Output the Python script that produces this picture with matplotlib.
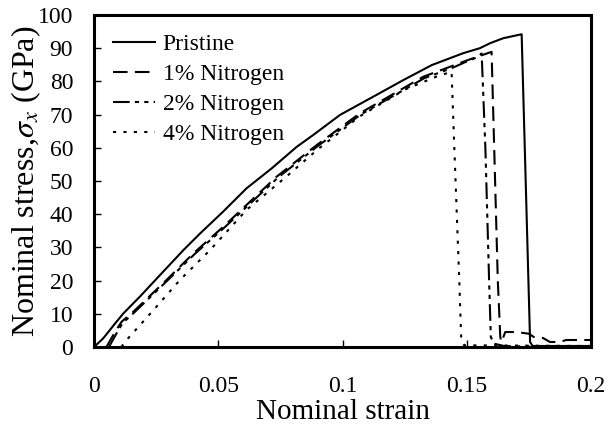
import matplotlib
matplotlib.use('Agg')
import matplotlib.pyplot as plt

plt.rcParams['font.family'] = 'Liberation Serif'
plt.rcParams['mathtext.fontset'] = 'stix'

# Pristine
pr_x = [0, 0.0037, 0.0085, 0.0118, 0.0185, 0.0266, 0.036, 0.0427, 0.052, 0.0614,
        0.0715, 0.0816, 0.0883, 0.099, 0.1124, 0.1245, 0.1359, 0.1486, 0.1553,
        0.1594, 0.1647, 0.1721, 0.1755, 0.1765, 0.19, 0.2]
pr_y = [0, 2.6, 7.1, 10.1, 15.2, 21.7, 29.2, 34.2, 40.8, 47.8,
        53.8, 60.3, 63.9, 69.9, 75.4, 80.4, 84.9, 88.5, 90.0,
        91.5, 93.0, 94.2, 1.5, 0.3, 0.3, 0.3]

# 1% Nitrogen
n1_x = [0.005, 0.0085, 0.0111, 0.0158, 0.0292, 0.040, 0.052, 0.0735, 0.0896, 0.107,
        0.1325, 0.1433, 0.150, 0.155, 0.160, 0.1625, 0.1635, 0.164, 0.1655, 0.170,
        0.175, 0.177, 0.1807, 0.1835, 0.1875, 0.19, 0.2]
n1_y = [0, 4.6, 7.6, 10.6, 20.2, 28.2, 36.2, 51.3, 60.8, 70.4,
        81.4, 84.4, 86.3, 87.6, 88.9, 20, 3, 1.5, 4.5, 4.5,
        4.0, 3.0, 2.7, 1.5, 1.5, 2.1, 2.1]

# 2% Nitrogen
n2_x = [0.006, 0.0092, 0.0115, 0.0162, 0.0295, 0.0405, 0.0525, 0.074, 0.0900, 0.1075,
        0.1330, 0.1440, 0.150, 0.154, 0.1560, 0.1575, 0.159, 0.1597, 0.161, 0.165,
        0.170, 0.2]
n2_y = [0, 4.3, 7.2, 10.4, 20.0, 28.0, 36.0, 51.0, 60.5, 70.1,
        81.0, 84.0, 86.0, 87.2, 88.4, 60, 20, 3, 1.0, 0.3,
        0.2, 0.2]

# 4% Nitrogen
n4_x = [0.011, 0.0131, 0.0239, 0.0346, 0.0467, 0.0614, 0.0769, 0.090, 0.107, 0.125,
        0.138, 0.1439, 0.145, 0.147, 0.1478, 0.149, 0.2]
n4_y = [0, 2.1, 11.1, 20.2, 29.2, 41.3, 51.0, 59.5, 69.5, 77.5,
        81.5, 82.9, 60, 20, 2, 0.5, 0.3]

fig = plt.figure(figsize=(6.09, 4.38), dpi=100)
ax = fig.add_axes([0.1544, 0.2078, 0.816, 0.758])

lw = 1.5
ax.plot(pr_x, pr_y, color='black', lw=1.5, label='Pristine')
ax.plot(n1_x, n1_y, color='black', lw=lw, dashes=(7, 3.5), label='1% Nitrogen')
ax.plot(n2_x, n2_y, color='black', lw=lw, dashes=(8, 2.5, 2, 2.5, 2, 2.5), label='2% Nitrogen')
ax.plot(n4_x, n4_y, color='black', lw=lw, dashes=(1.5, 3.5), label='4% Nitrogen')

ax.set_xlim(0, 0.2)
ax.set_ylim(0, 100)
ax.set_xticks([0, 0.05, 0.1, 0.15, 0.2])
ax.set_xticklabels(['0', '0.05', '0.1', '0.15', '0.2'])
ax.set_yticks(range(0, 101, 10))
ax.tick_params(direction='in', length=5, width=1, labelsize=17)
ax.tick_params(axis='x', pad=21)
ax.tick_params(axis='y', pad=15)
for s in ax.spines.values():
    s.set_linewidth(2.2)

ax.set_xlabel('Nominal strain', fontsize=21, labelpad=1)
ax.set_ylabel(r'Nominal stress,$\sigma_x$ (GPa)', fontsize=23, labelpad=-4)

ax.legend(loc='upper left', frameon=False, fontsize=17, handlelength=1.8,
          handletextpad=0.3, labelspacing=0.36, borderaxespad=0.4)

fig.savefig('out.png', dpi=100)
